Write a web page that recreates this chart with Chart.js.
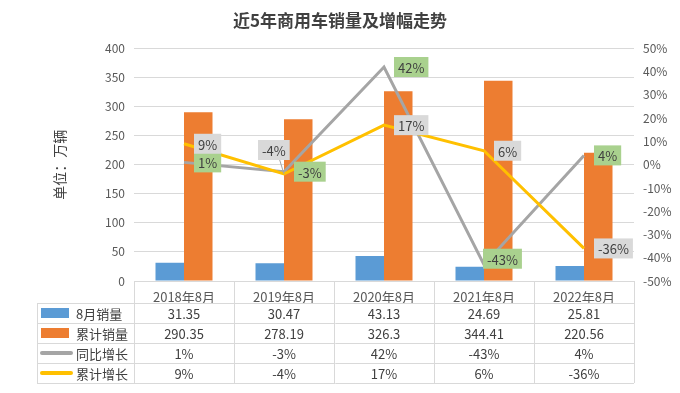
<!DOCTYPE html>
<html>
<head>
<meta charset="utf-8">
<script src="https://cdn.jsdelivr.net/npm/chart.js@4.4.0/dist/chart.umd.min.js"></script>
<style>
  html, body { margin: 0; padding: 0; background: #fff; }
  #wrap { width: 680px; height: 393px; }
</style>
</head>
<body>
<div id="wrap"><canvas id="myChart"></canvas></div>
<script>
const categories = ['2018年8月', '2019年8月', '2020年8月', '2021年8月', '2022年8月'];
const monthSales = [31.35, 30.47, 43.13, 24.69, 25.81];
const ytdSales = [290.35, 278.19, 326.3, 344.41, 220.56];
const yoyGrowth = [1, -3, 42, -43, 4];
const ytdGrowth = [9, -4, 17, 6, -36];
const salesTicks = [0, 50, 100, 150, 200, 250, 300, 350, 400];
const growthTicks = [-50, -40, -30, -20, -10, 0, 10, 20, 30, 40, 50];

const FONT = "'Noto Sans CJK SC', 'Noto Sans', sans-serif";
Chart.defaults.font.family = FONT;
Chart.defaults.color = '#595959';

// labels on the two lines: green box for yoy, grey box for ytd
const labelOffsets = {
    '3-1': { dx: -26, dy: -24, leader: true },
    '2-3': { dx: -1, dy: -6 }
};

const lineLabels = {
    id: 'lineLabels',
    afterDatasetsDraw(chart) {
        const ctx = chart.ctx;
        ctx.save();
        ctx.font = '13px ' + FONT;
        ctx.textBaseline = 'middle';
        ctx.textAlign = 'center';
        [2, 3].forEach(function (di) {
            const ds = chart.data.datasets[di];
            const meta = chart.getDatasetMeta(di);
            meta.data.forEach(function (pt, i) {
                const txt = ds.data[i] + '%';
                const w = ctx.measureText(txt).width + 8;
                const h = 20;
                const off = labelOffsets[di + '-' + i] || { dx: 10, dy: 0 };
                const bx = pt.x + off.dx;
                const cy = pt.y + off.dy;
                if (off.leader) {
                    ctx.strokeStyle = '#A5A5A5';
                    ctx.lineWidth = 1;
                    ctx.beginPath();
                    ctx.moveTo(bx + w - 10, cy + h / 2);
                    ctx.lineTo(pt.x, pt.y);
                    ctx.stroke();
                }
                ctx.fillStyle = di === 2 ? '#A9D18E' : '#D9D9D9';
                ctx.fillRect(bx, cy - h / 2, w, h);
                ctx.fillStyle = '#404040';
                ctx.fillText(txt, bx + w / 2, cy + 1);
            });
        });
        ctx.restore();
    }
};

const dataTable = {
    id: 'dataTable',
    afterDraw(chart) {
        const ctx = chart.ctx;
        const area = chart.chartArea;
        const xs = chart.scales.x;
        const half = (area.right - area.left) / categories.length / 2;
        const rowH = 20;
        const top = area.bottom + 22;
        const tableLeft = 37;
        const rows = [0, 1, 2, 3];
        const bottom = top + rows.length * rowH;

        ctx.save();
        ctx.strokeStyle = '#D9D9D9';
        ctx.lineWidth = 1;
        ctx.beginPath();
        // column lines
        for (let i = 0; i <= categories.length; i++) {
            const px = Math.round(area.left + i * half * 2) + 0.5;
            ctx.moveTo(px, area.bottom);
            ctx.lineTo(px, bottom);
        }
        ctx.moveTo(tableLeft + 0.5, top);
        ctx.lineTo(tableLeft + 0.5, bottom);
        for (let r = 0; r <= rows.length; r++) {
            const py = Math.round(top + r * rowH) + 0.5;
            ctx.moveTo(tableLeft, py);
            ctx.lineTo(area.right, py);
        }
        ctx.stroke();

        ctx.font = '13px ' + FONT;
        ctx.textBaseline = 'middle';
        rows.forEach(function (di, r) {
            const ds = chart.data.datasets[di];
            const cy = top + r * rowH + rowH / 2;
            // legend key
            if (ds.type === 'bar') {
                ctx.fillStyle = ds.backgroundColor;
                ctx.fillRect(41, cy - 5, 28, 10);
            } else {
                ctx.strokeStyle = ds.borderColor;
                ctx.lineWidth = 4;
                ctx.lineCap = 'round';
                ctx.beginPath();
                ctx.moveTo(42, cy);
                ctx.lineTo(71, cy);
                ctx.stroke();
            }
            ctx.fillStyle = '#404040';
            ctx.textAlign = 'left';
            ctx.fillText(ds.label, 76, cy + 1);
            ctx.textAlign = 'center';
            ds.data.forEach(function (v, i) {
                const txt = ds.type === 'bar' ? String(v) : v + '%';
                ctx.fillText(txt, xs.getPixelForValue(i), cy + 1);
            });
        });
        ctx.restore();
    }
};

const config = {
    data: {
        labels: categories,
        datasets: [{
            type: 'bar',
            label: '8月销量',
            data: monthSales,
            backgroundColor: '#5B9BD5',
            yAxisID: 'y',
            order: 2,
            categoryPercentage: 0.57,
            barPercentage: 1.0
        }, {
            type: 'bar',
            label: '累计销量',
            data: ytdSales,
            backgroundColor: '#ED7D31',
            yAxisID: 'y',
            order: 2,
            categoryPercentage: 0.57,
            barPercentage: 1.0
        }, {
            type: 'line',
            label: '同比增长',
            data: yoyGrowth,
            borderColor: '#A5A5A5',
            borderWidth: 3,
            pointRadius: 0,
            tension: 0,
            yAxisID: 'y1',
            order: 1
        }, {
            type: 'line',
            label: '累计增长',
            data: ytdGrowth,
            borderColor: '#FFC000',
            borderWidth: 3,
            pointRadius: 0,
            tension: 0,
            yAxisID: 'y1',
            order: 0
        }]
    },
    options: {
        responsive: true,
        maintainAspectRatio: false,
        animation: false,
        layout: { padding: { left: 0, right: 0, top: 0, bottom: 90 } },
        plugins: {
            legend: { display: false },
            tooltip: { enabled: false },
            title: {
                display: true,
                text: '近5年商用车销量及增幅走势',
                color: '#404040',
                font: { size: 17, weight: 'bold' },
                padding: { top: 10, bottom: 18 }
            }
        },
        scales: {
            x: {
                grid: { display: false },
                border: { display: false },
                ticks: { color: '#595959', font: { size: 13 }, padding: 0 },
                afterFit: function (s) { s.height = 22; }
            },
            y: {
                position: 'left',
                min: salesTicks[0],
                max: salesTicks[salesTicks.length - 1],
                ticks: { stepSize: salesTicks[1] - salesTicks[0], padding: 9, color: '#595959', font: { size: 12 } },
                grid: { color: '#D9D9D9', drawTicks: false },
                border: { display: false },
                title: {
                    display: true,
                    text: '单位：万辆',
                    color: '#404040',
                    font: { size: 14 },
                    padding: { top: 51, bottom: 0 }
                },
                afterFit: function (s) { s.width = 134; }
            },
            y1: {
                position: 'right',
                min: growthTicks[0],
                max: growthTicks[growthTicks.length - 1],
                ticks: {
                    stepSize: growthTicks[1] - growthTicks[0],
                    padding: 9,
                    color: '#595959',
                    font: { size: 12 },
                    callback: function (v) { return v + '%'; }
                },
                grid: { display: false, drawTicks: false },
                border: { display: false },
                afterFit: function (s) { s.width = 46; }
            }
        }
    },
    plugins: [lineLabels, dataTable]
};

const myChart = new Chart(document.getElementById('myChart'), config);
</script>
</body>
</html>
